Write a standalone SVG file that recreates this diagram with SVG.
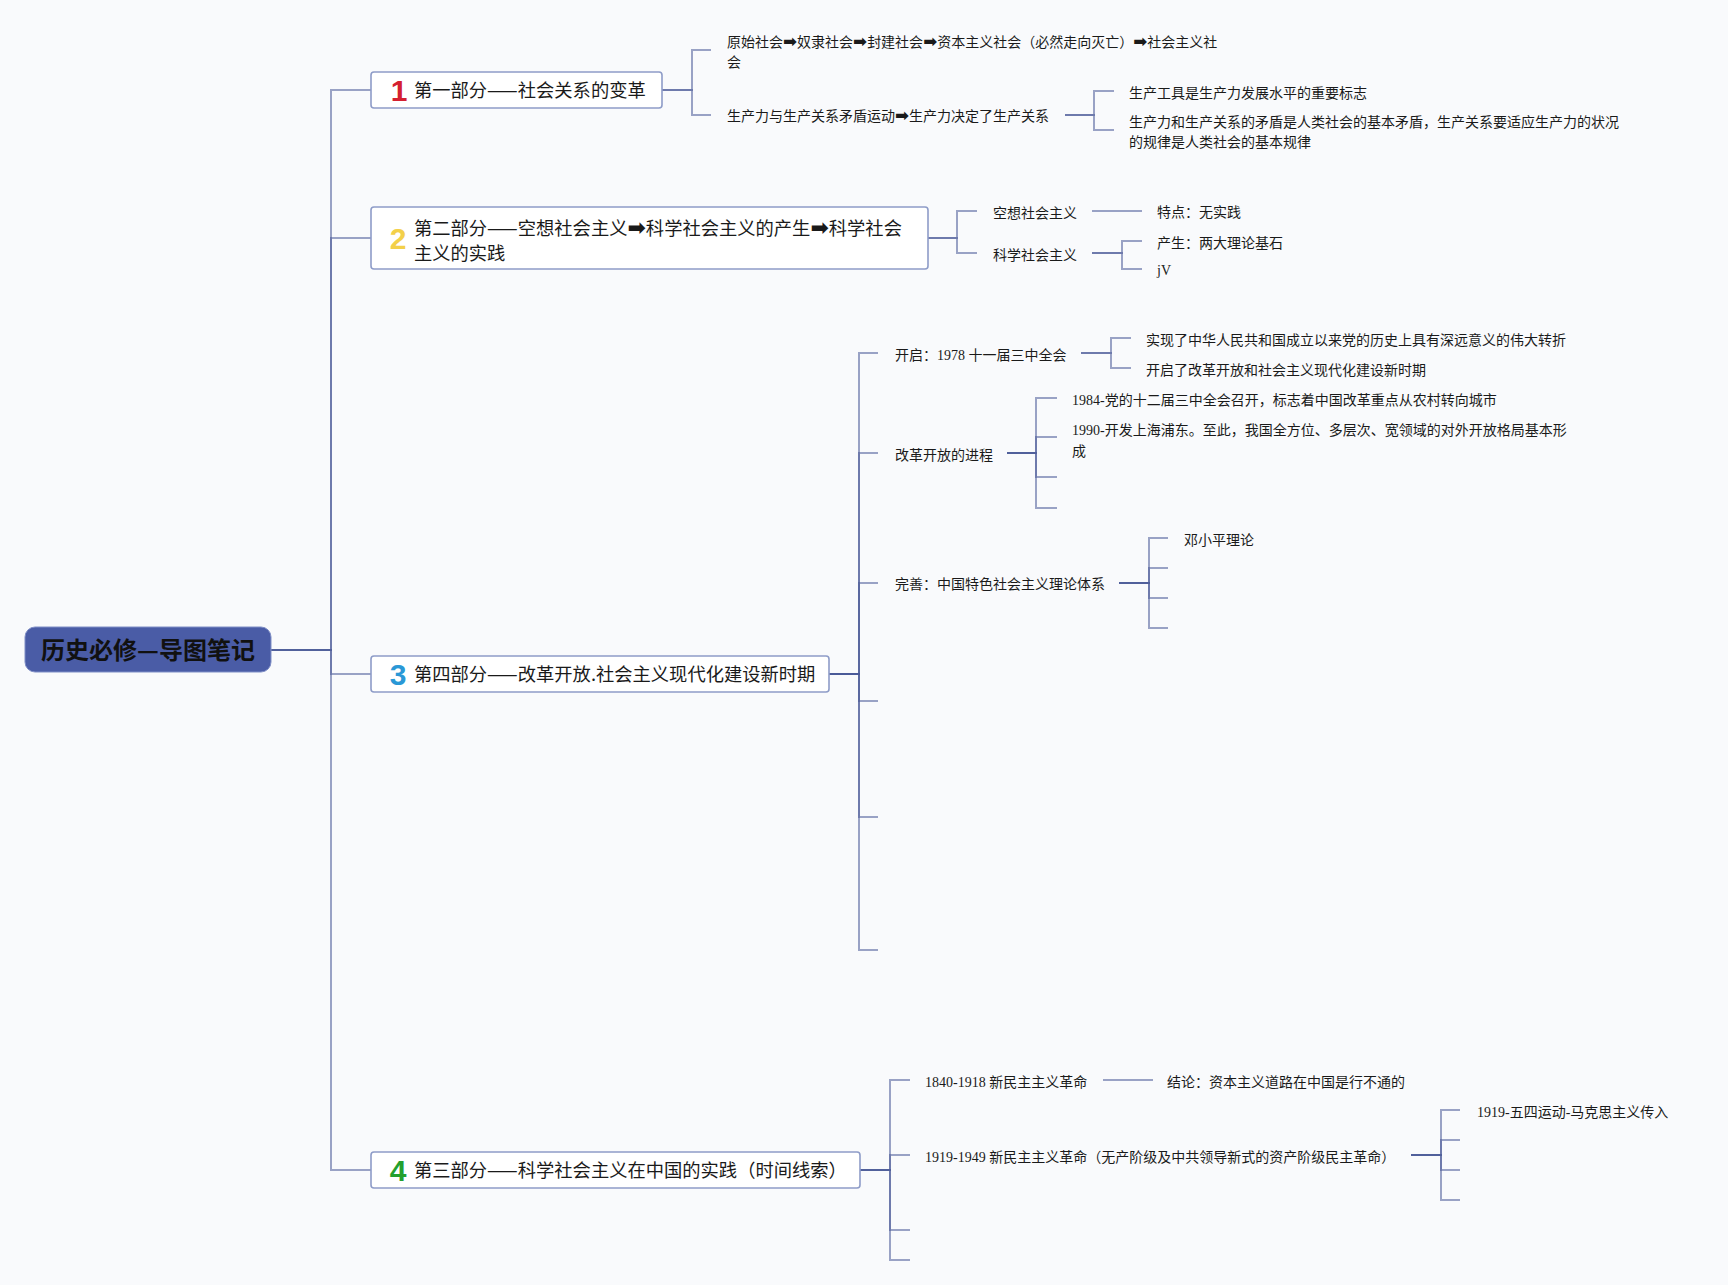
<svg xmlns="http://www.w3.org/2000/svg" width="1728" height="1285" viewBox="0 0 1728 1285">
<style>
.ln{fill:none;stroke:#4a5a98;stroke-opacity:.55;stroke-width:2}
.nd{fill:#fff;stroke:#8e9cc8;stroke-width:1.6}
.t18{font-family:"Noto Sans CJK SC",sans-serif;font-size:18.3px;fill:#1a1a1a}
.t14{font-family:"Liberation Serif","Noto Sans CJK SC",serif;font-size:14px;fill:#1a1a1a}
.num{font-family:"Liberation Sans",sans-serif;font-weight:bold;font-size:30px;text-anchor:middle}
.ar{font-family:"DejaVu Sans",sans-serif;font-weight:bold;font-size:1.2em}
</style>
<rect width="1728" height="1285" fill="#f9fafc"/>
<g id="connectors">
<path class="ln" d="M271,650H331V90H371"/>
<path class="ln" d="M271,650H331V238H371"/>
<path class="ln" d="M271,650H331V674H371"/>
<path class="ln" d="M271,650H331V1170H371"/>
<path class="ln" d="M662,90H692V50H711"/>
<path class="ln" d="M662,90H692V115H711"/>
<path class="ln" d="M1065,115H1094V91H1114"/>
<path class="ln" d="M1065,115H1094V130H1114"/>
<path class="ln" d="M928,238H957V211H977"/>
<path class="ln" d="M928,238H957V253H977"/>
<path class="ln" d="M1092,211H1142"/>
<path class="ln" d="M1092,253H1122V241H1142"/>
<path class="ln" d="M1092,253H1122V269H1142"/>
<path class="ln" d="M829,674H859V353H878"/>
<path class="ln" d="M829,674H859V453H878"/>
<path class="ln" d="M829,674H859V583H878"/>
<path class="ln" d="M829,674H859V701H878"/>
<path class="ln" d="M829,674H859V817H878"/>
<path class="ln" d="M829,674H859V950H878"/>
<path class="ln" d="M1081,353H1111V338H1131"/>
<path class="ln" d="M1081,353H1111V368H1131"/>
<path class="ln" d="M1007,453H1036V398H1057"/>
<path class="ln" d="M1007,453H1036V437H1057"/>
<path class="ln" d="M1007,453H1036V477H1057"/>
<path class="ln" d="M1007,453H1036V508H1057"/>
<path class="ln" d="M1119,583H1149V538H1168"/>
<path class="ln" d="M1119,583H1149V568H1168"/>
<path class="ln" d="M1119,583H1149V598H1168"/>
<path class="ln" d="M1119,583H1149V628H1168"/>
<path class="ln" d="M860,1170H890V1080H910"/>
<path class="ln" d="M860,1170H890V1155H910"/>
<path class="ln" d="M860,1170H890V1230H910"/>
<path class="ln" d="M860,1170H890V1260H910"/>
<path class="ln" d="M1103,1080H1153"/>
<path class="ln" d="M1411,1155H1441V1110H1460"/>
<path class="ln" d="M1411,1155H1441V1140H1460"/>
<path class="ln" d="M1411,1155H1441V1170H1460"/>
<path class="ln" d="M1411,1155H1441V1200H1460"/>
</g>
<g id="root">
<rect x="25" y="627" width="246" height="45" rx="10" fill="#4a5ca6" stroke="#7f8ec6" stroke-width="1"/>
<text x="148" y="658.5" text-anchor="middle" font-family="Noto Sans CJK SC, sans-serif" font-weight="bold" font-size="24" fill="#111">历史必修—导图笔记</text>
</g>
<g id="part1">
<rect class="nd" x="371" y="72" width="291" height="36" rx="3"/>
<text class="num" x="399" y="100.7" fill="#d42030">1</text>
<text class="t18" x="414" y="96.5">第一部分——社会关系的变革</text>
</g>
<g id="part2">
<rect class="nd" x="371" y="207" width="557" height="62" rx="3"/>
<text class="num" x="398" y="249" fill="#f3d04a">2</text>
<text class="t18" x="414" y="234.5">第二部分——空想社会主义<tspan class="ar">➡</tspan>科学社会主义的产生<tspan class="ar">➡</tspan>科学社会</text>
<text class="t18" x="414" y="259.5">主义的实践</text>
</g>
<g id="part3">
<rect class="nd" x="371" y="656" width="458" height="36" rx="3"/>
<text class="num" x="398" y="684.7" fill="#2a98d6">3</text>
<text class="t18" x="414" y="680.5">第四部分——改革开放.社会主义现代化建设新时期</text>
</g>
<g id="part4">
<rect class="nd" x="371" y="1152" width="489" height="36" rx="3"/>
<text class="num" x="398" y="1180.7" fill="#23a02e">4</text>
<text class="t18" x="414" y="1176.5">第三部分——科学社会主义在中国的实践（时间线索）</text>
</g>
<g id="p1-children">
<text class="t14" x="727" y="46.7">原始社会<tspan class="ar">➡</tspan>奴隶社会<tspan class="ar">➡</tspan>封建社会<tspan class="ar">➡</tspan>资本主义社会（必然走向灭亡）<tspan class="ar">➡</tspan>社会主义社</text>
<text class="t14" x="727" y="66.7">会</text>
<text class="t14" x="727" y="121">生产力与生产关系矛盾运动<tspan class="ar">➡</tspan>生产力决定了生产关系</text>
<text class="t14" x="1129" y="97.7">生产工具是生产力发展水平的重要标志</text>
<text class="t14" x="1129" y="126.7">生产力和生产关系的矛盾是人类社会的基本矛盾，生产关系要适应生产力的状况</text>
<text class="t14" x="1129" y="146.7">的规律是人类社会的基本规律</text>
</g>
<g id="p2-children">
<text class="t14" x="993" y="217.7">空想社会主义</text>
<text class="t14" x="993" y="260">科学社会主义</text>
<text class="t14" x="1157" y="217">特点：无实践</text>
<text class="t14" x="1157" y="247.7">产生：两大理论基石</text>
<text class="t14" x="1157" y="275">jV</text>
</g>
<g id="p3-children">
<text class="t14" x="895" y="360">开启：1978 十一届三中全会</text>
<text class="t14" x="1146" y="345">实现了中华人民共和国成立以来党的历史上具有深远意义的伟大转折</text>
<text class="t14" x="1146" y="375">开启了改革开放和社会主义现代化建设新时期</text>
<text class="t14" x="895" y="460">改革开放的进程</text>
<text class="t14" x="1072" y="405">1984-党的十二届三中全会召开，标志着中国改革重点从农村转向城市</text>
<text class="t14" x="1072" y="435">1990-开发上海浦东。至此，我国全方位、多层次、宽领域的对外开放格局基本形</text>
<text class="t14" x="1072" y="455.7">成</text>
<text class="t14" x="895" y="589">完善：中国特色社会主义理论体系</text>
<text class="t14" x="1184" y="545">邓小平理论</text>
</g>
<g id="p4-children">
<text class="t14" x="925" y="1086.7">1840-1918 新民主主义革命</text>
<text class="t14" x="1167" y="1086.7">结论：资本主义道路在中国是行不通的</text>
<text class="t14" x="925" y="1161.7">1919-1949 新民主主义革命（无产阶级及中共领导新式的资产阶级民主革命）</text>
<text class="t14" x="1477" y="1116.7">1919-五四运动-马克思主义传入</text>
</g>
</svg>
